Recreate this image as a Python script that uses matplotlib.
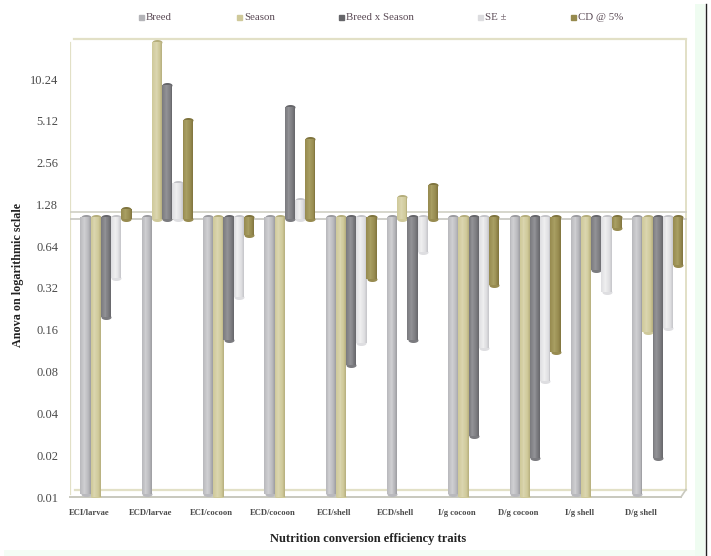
"""
Anova on a logarithmic scale for nutrition conversion efficiency traits.
Cylinder style bars drawn from a baseline of 1 on a log2 axis.
"""
import numpy as np
import matplotlib
matplotlib.use('Agg')
import matplotlib.pyplot as plt
from matplotlib.colors import to_rgb
from matplotlib.path import Path
from matplotlib.lines import Line2D

traits = ['ECI/larvae', 'ECD/larvae', 'ECI/cocoon', 'ECD/cocoon', 'ECI/shell',
          'ECD/shell', 'I/g cocoon', 'D/g cocoon', 'I/g shell', 'D/g shell']
breed = [0.0105, 0.0105, 0.0105, 0.0105, 0.0105, 0.0105, 0.0105, 0.0105, 0.0105, 0.0105]
season = [0.01, 19.0, 0.01, 0.01, 0.01, 1.45, 0.01, 0.01, 0.01, 0.155]
breed_season = [0.197, 9.2, 0.134, 6.4, 0.089, 0.134, 0.0274, 0.019, 0.43, 0.019]
se = [0.38, 1.82, 0.274, 1.37, 0.128, 0.58, 0.118, 0.069, 0.30, 0.164]
cd = [1.18, 5.2, 0.77, 3.8, 0.37, 1.76, 0.335, 0.11, 0.86, 0.465]

series_names = ['Breed', 'Season', 'Breed x Season', 'SE \u00b1', 'CD @ 5%']
series_values = [breed, season, breed_season, se, cd]
series_colors = ['#b9b9bd', '#cfc99a', '#7b7b7f', '#dedee1', '#978b50']
series_lights = ['#cfcfd2', '#dad5ae', '#929296', '#eeeeef', '#a89e62']
series_darks = ['#9c9ca0', '#b5ae7c', '#66666a', '#c4c4c8', '#7f743e']
legend_colors = ['#b4b4b8', '#cfc99a', '#66666a', '#dcdcdf', '#968a4e']
legend_x = [141, 239, 341, 480, 573]
y_ticks = [0.01, 0.02, 0.04, 0.08, 0.16, 0.32, 0.64, 1.28, 2.56, 5.12, 10.24]

W, H = 711, 556
LEFT, RIGHT, TOP, BOTTOM = 70, 690, 40, 497
BASE = 1.0
FRAME = '#e2e0c6'
TEXT = '#4a4a4a'

plt.rcParams['font.family'] = ['Liberation Serif', 'DejaVu Serif']

fig = plt.figure(figsize=(W / 100, H / 100), dpi=100, facecolor='white')

# pale strips and the black rule along the edge of the scanned page
fig.patches.append(plt.Rectangle((695 / W, 0), 10 / W, 1 - 4 / H, transform=fig.transFigure,
                                 facecolor='#effcf1', edgecolor='none'))
fig.patches.append(plt.Rectangle((4 / W, 0), 691 / W, 6 / H, transform=fig.transFigure,
                                 facecolor='#f4fdf5', edgecolor='none'))
fig.add_artist(Line2D([705.5 / W, 705.5 / W], [0, 1 - 4 / H], color='#222222', lw=1.0,
                      transform=fig.transFigure))

ax = fig.add_axes([LEFT / W, 1 - BOTTOM / H, (RIGHT - LEFT) / W, (BOTTOM - TOP) / H])
ax.patch.set_alpha(0)
ax.set_yscale('log', base=2)
ax.set_ylim(0.01, 0.01 * 2 ** ((BOTTOM - TOP) / 41.8))
x_per_group = 61.3
ax.set_xlim((LEFT - 106) / x_per_group, (RIGHT - 106) / x_per_group)

# chart frame, floor and the plane at the baseline
ax.plot([-0.5, 9.46], [0.0113, 0.0113], color=FRAME, lw=1.6, zorder=1)
ax.plot([-0.585, -0.585], [0.0105, 18.5], color=FRAME, lw=1.6, zorder=1)
ax.plot([-0.52, 9.46], [19.9, 19.9], color=FRAME, lw=1.6, zorder=1, clip_on=False)
ax.plot([9.46, 9.46], [0.0113, 19.9], color=FRAME, lw=1.4, zorder=1, clip_on=False)
ax.plot([-0.585, 9.46], [1.12, 1.12], color='#cfcfc4', lw=1.2, zorder=1)
ax.plot([-0.585, 9.46], [BASE, BASE], color='#c6c6c0', lw=1.2, zorder=1)
ax.plot([9.38, 9.46], [0.01, 0.0113], color='#c8c8be', lw=1.2, zorder=2, clip_on=False)
ax.plot([-0.585, 9.38], [0.01, 0.01], color='#c8c8be', lw=1.4, zorder=2, clip_on=False)

theta = np.linspace(0, 2 * np.pi, 40)
cap = Path(np.column_stack([np.cos(theta), 0.5 * np.sin(theta)]))

group_x = np.arange(len(traits))
width = 10.2 / x_per_group
n_strips = 11
offsets = (np.arange(n_strips) + 0.5) / n_strips - 0.5

# left to right so each bar overlaps its neighbour as in the 3D original
for index, values in enumerate(series_values):
    x = group_x + (index - 2) * width
    vals = np.array(values, dtype=float)
    z = 3 + index
    dark = np.array(to_rgb(series_darks[index]))
    mid = np.array(to_rgb(series_colors[index]))
    light = np.array(to_rgb(series_lights[index]))
    up = vals > BASE
    # rounded ends, the outer end darker on the bars that rise
    ax.scatter(x[up], vals[up], marker=cap, s=52, color=series_darks[index], linewidths=0, zorder=z)
    ax.scatter(x[~up], vals[~up], marker=cap, s=52, color=series_colors[index], linewidths=0, zorder=z)
    ax.scatter(x[up], np.full(up.sum(), BASE), marker=cap, s=52, color=series_colors[index],
               linewidths=0, zorder=z)
    ax.scatter(x[~up], np.full((~up).sum(), 1.035), marker=cap, s=52, color=series_darks[index],
               linewidths=0, zorder=z)
    for offset in offsets:
        t = abs(offset + 0.1) / 0.6
        color = light + (mid - light) * min(t * 1.6, 1) if t < 0.6 else mid + (dark - mid) * (t - 0.6) / 0.4
        tops = np.where(up, BASE, 1.035)
        ax.bar(x + offset * width, vals - tops, width=width / n_strips * 1.05, bottom=tops,
               color=np.clip(color, 0, 1), edgecolor='none', zorder=z)

ax.set_yticks(y_ticks)
ax.set_yticklabels(['%.2f' % tick for tick in y_ticks], fontsize=9, color=TEXT)
ax.minorticks_off()
ax.tick_params(axis='y', length=0, pad=8.6)
# the category labels sit left of the bar groups in the original
ax.set_xticks(group_x - 17 / x_per_group)
ax.set_xticklabels(traits, fontsize=6.2, fontweight='bold', color=TEXT)
ax.tick_params(axis='x', length=0, pad=8.5)
for spine in ax.spines.values():
    spine.set_visible(False)

fig.text(368 / W, 1 - 539 / H, 'Nutrition conversion efficiency traits', ha='center', va='center',
         fontsize=9, fontweight='bold', color='#222222')
fig.text(18 / W, 1 - 275 / H, 'Anova on logarithmic sclale', ha='center', va='center', rotation=90,
         fontsize=8.7, fontweight='bold', color='#222222')

# legend laid out by hand to keep the uneven spacing of the original
for name, color, px in zip(series_names, legend_colors, legend_x):
    fig.add_artist(Line2D([px / W], [1 - 17 / H], marker='s', markersize=3.6, color=color,
                          linestyle='none', transform=fig.transFigure))
    fig.text((px + 5) / W, 1 - 17 / H, name, ha='left', va='center', fontsize=7.8, color='#5a4a55')

fig.savefig('out.png', dpi=100)
